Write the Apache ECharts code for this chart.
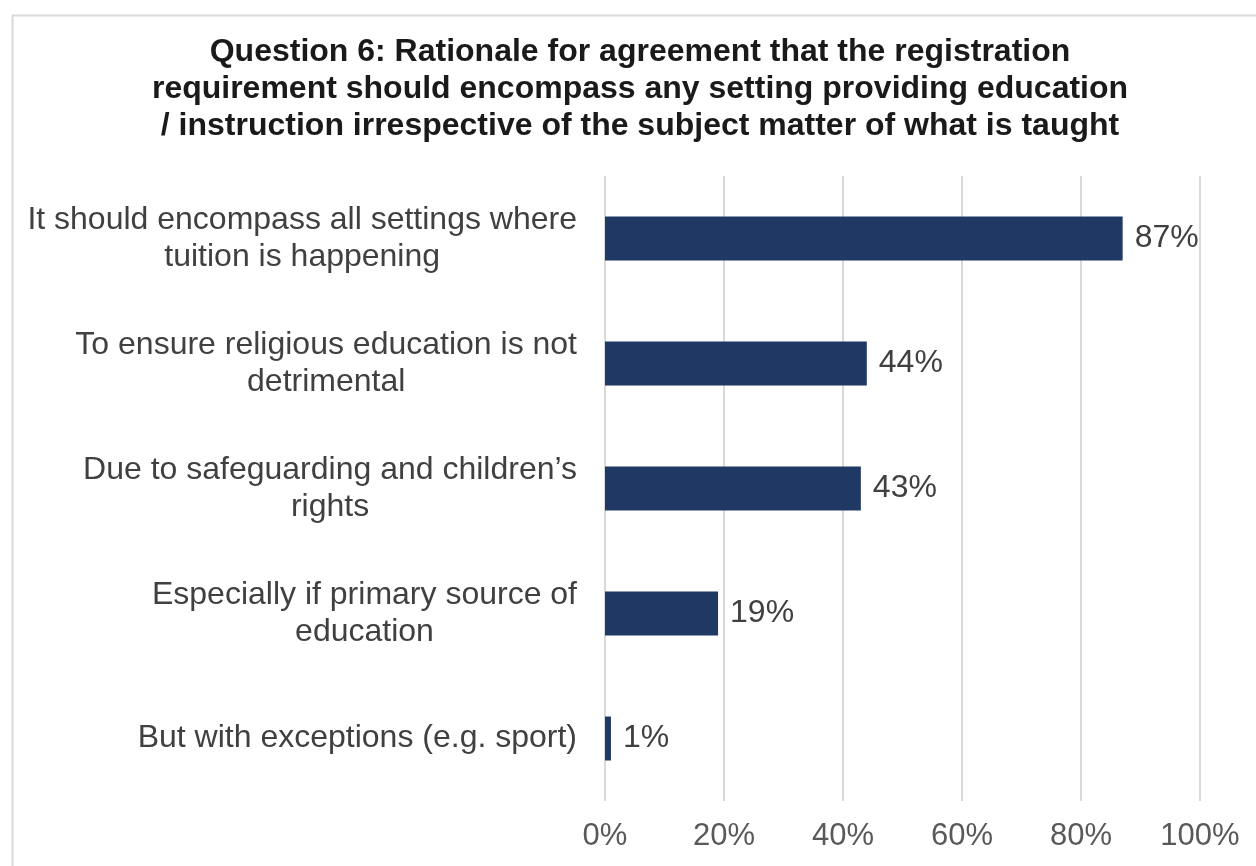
<!DOCTYPE html>
<html>
<head>
<meta charset="utf-8">
<script src="https://cdn.jsdelivr.net/npm/echarts@6/dist/echarts.min.js"></script>
<style>
html,body{margin:0;padding:0;background:#fff;}
#chart{width:1256px;height:866px;}
</style>
</head>
<body>
<div id="chart"></div>
<script>
const titleText = "Question 6: Rationale for agreement that the registration\nrequirement should encompass any setting providing education\n/ instruction irrespective of the subject matter of what is taught";
const categories = [
  "It should encompass all settings where\ntuition is happening",
  "To ensure religious education is not\ndetrimental",
  "Due to safeguarding and children\u2019s\nrights",
  "Especially if primary source of\neducation",
  "But with exceptions (e.g. sport)"
];
const values = [87, 44, 43, 19, 1];
const xTicks = [0, 20, 40, 60, 80, 100];

const chart = echarts.init(document.getElementById('chart'));
const FONT = '"Liberation Sans", Arial, sans-serif';
chart.setOption({
  animation: false,
  textStyle: { fontFamily: FONT },
  graphic: [{
    type: 'rect', left: 10, top: 13, silent: true,
    shape: { width: 1300, height: 900 },
    style: { fill: 'none', stroke: '#d9d9d9', lineWidth: 2 }
  }],
  title: {
    text: titleText,
    left: 635, top: 29, textAlign: 'center',
    textStyle: { fontFamily: FONT, fontWeight: 'bold', fontSize: 32, lineHeight: 37, color: '#1a1a1a' }
  },
  grid: { left: 605, right: 56, top: 176, bottom: 65, containLabel: false },
  xAxis: {
    type: 'value', min: xTicks[0], max: xTicks[xTicks.length - 1], interval: 20,
    axisLine: { show: false }, axisTick: { show: false },
    splitLine: { lineStyle: { color: '#d9d9d9', width: 2 } },
    axisLabel: { formatter: '{value}%', fontSize: 31, color: '#595959', margin: 20, fontFamily: FONT }
  },
  yAxis: {
    type: 'category', inverse: true, data: categories,
    axisLine: { show: false }, axisTick: { show: false },
    axisLabel: {
      margin: 28, align: 'right',
      formatter: function (v) {
        return v.split('\n').map(function (l) { return '{c|' + l + '}'; }).join('\n');
      },
      rich: { c: { align: 'center', fontSize: 32, lineHeight: 37, color: '#404040', fontFamily: FONT } }
    }
  },
  series: [{
    type: 'bar', data: values, barWidth: 44,
    itemStyle: { color: '#203864' },
    label: { show: true, position: 'right', distance: 12, formatter: '{c}%', fontSize: 32, color: '#404040', fontFamily: FONT }
  }]
});
</script>
</body>
</html>
